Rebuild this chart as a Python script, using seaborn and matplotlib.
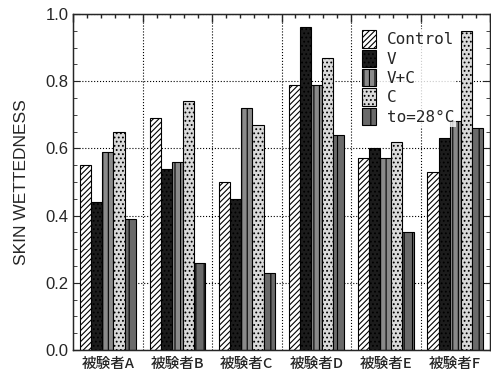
import numpy as np
import pandas as pd
import seaborn as sns
import matplotlib.pyplot as plt
from matplotlib.ticker import MultipleLocator, FixedLocator

# data
subjects = ["被験者A", "被験者B", "被験者C", "被験者D", "被験者E", "被験者F"]
conditions = ["Control", "V", "V+C", "C", "to=28°C"]
control = [0.55, 0.69, 0.50, 0.79, 0.57, 0.53]
v_only = [0.44, 0.54, 0.45, 0.96, 0.60, 0.63]
v_plus_c = [0.59, 0.56, 0.72, 0.79, 0.57, 0.68]
c_only = [0.65, 0.74, 0.67, 0.87, 0.62, 0.95]
to28 = [0.39, 0.26, 0.23, 0.64, 0.35, 0.66]

series = [control, v_only, v_plus_c, c_only, to28]
rows = []
for cond, vals in zip(conditions, series):
    for subj, val in zip(subjects, vals):
        rows.append({"subject": subj, "condition": cond, "value": val})
df = pd.DataFrame(rows)

sns.set_style("ticks")
plt.rcParams["font.family"] = ["Liberation Sans", "Noto Sans CJK JP"]
plt.rcParams["hatch.linewidth"] = 0.8

fig = plt.figure(figsize=(4.91, 3.76), dpi=100)
ax = fig.add_axes([0.149, 0.069, 0.849, 0.894])

sns.barplot(data=df, x="subject", y="value", hue="condition", hue_order=conditions,
            order=subjects, width=0.8, gap=0, ax=ax, legend=False,
            edgecolor="black", linewidth=0.8)

# bar styles (face colour, hatch) per condition
styles = [("white", "//////"), ("#1c1c1c", "...."), ("#8a8a8a", "|||"),
          ("#dadada", "...."), ("#6a6a6a", "||")]
for cont, (fc, hatch) in zip(ax.containers, styles):
    for bar in cont:
        bar.set_facecolor(fc)
        bar.set_hatch(hatch)
        bar.set_edgecolor("black")

######## Axes ########
ax.set_xlim(-0.5, 5.5)
ax.set_ylim(0, 1.0)
ax.yaxis.set_major_locator(MultipleLocator(0.2))
ax.yaxis.set_minor_locator(MultipleLocator(0.05))
ax.set_yticklabels([f"{t:.1f}" for t in ax.get_yticks()])
ax.tick_params(axis="y", which="both", direction="in", left=True, right=True, labelsize=12)
ax.tick_params(axis="y", which="major", length=5)
ax.tick_params(axis="y", which="minor", length=3)

ax.xaxis.set_minor_locator(FixedLocator(np.arange(0.5, 5.0, 1.0)))
ax.tick_params(axis="x", which="both", length=0, pad=5)
for lab in ax.get_xticklabels():
    lab.set_fontfamily(["Noto Sans CJK JP", "DejaVu Sans"])
    lab.set_fontsize(10.5)
    lab.set_fontweight("medium")

# top axis tick marks
top = ax.twiny()
top.set_xlim(ax.get_xlim())
top.xaxis.set_major_locator(FixedLocator(np.arange(-0.5, 5.6, 1.0)))
top.xaxis.set_minor_locator(FixedLocator(np.arange(-0.5, 5.6, 0.2)))
top.tick_params(which="both", direction="in", labeltop=False, top=True, bottom=False)
top.tick_params(which="major", length=6, width=1)
top.tick_params(which="minor", length=3, width=1)

ax.grid(axis="y", which="major", linestyle=":", color="black", linewidth=0.8)
ax.grid(axis="x", which="minor", linestyle=":", color="black", linewidth=0.8)
ax.set_axisbelow(True)

for sp in ax.spines.values():
    sp.set_linewidth(1.0)
    sp.set_visible(True)

ax.set_xlabel("")
ax.set_ylabel("SKIN WETTEDNESS", fontsize=12.5, labelpad=12)

leg = top.legend(handles=list(ax.containers), labels=conditions, loc="upper left",
                 bbox_to_anchor=(0.67, 0.98), frameon=True, facecolor="white",
                 edgecolor="none", fancybox=False, handlelength=0.85, handleheight=1.3,
                 labelspacing=0.12, handletextpad=0.7, borderpad=0.1,
                 prop={"family": ["DejaVu Sans Mono"], "size": 11.5})

plt.savefig("out.png", dpi=100)
